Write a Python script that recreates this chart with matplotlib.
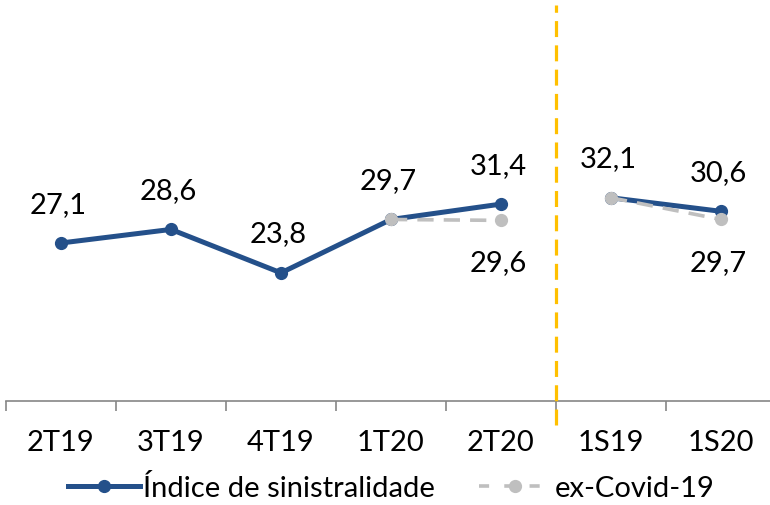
import matplotlib
matplotlib.use("Agg")
import matplotlib.pyplot as plt
import numpy as np

plt.rcParams['font.family'] = ['Lato', 'DejaVu Sans']

categories = ['2T19', '3T19', '4T19', '1T20', '2T20', '1S19', '1S20']
indice = [27.1, 28.6, 23.8, 29.7, 31.4, 32.1, 30.6]
ex_covid = [np.nan, np.nan, np.nan, 29.7, 29.6, 32.1, 29.7]
indice_labels = ['27,1', '28,6', '23,8', '29,7', '31,4', '32,1', '30,6']
ex_covid_labels = {4: '29,6', 6: '29,7'}

blue = '#24508A'
grey = '#BFBFBF'
orange = '#FFC000'

x = np.arange(len(categories))

fig = plt.figure(figsize=(7.7, 5.06), dpi=100)
ax = fig.add_axes([6 / 770, 104 / 506, 770 / 770, 396 / 506])

# blue series, broken between quarters and semesters
for seg in (slice(0, 5), slice(5, 7)):
    ax.plot(x[seg], indice[seg], color=blue, lw=3.6, marker='o', ms=8.5,
            solid_capstyle='round', zorder=3)

# grey ex-Covid series
for seg in (slice(3, 5), slice(5, 7)):
    ax.plot(x[seg], ex_covid[seg], color=grey, lw=2.6, marker='o', ms=8.5,
            dashes=(4.5, 2.8), zorder=4)

fs = 21
for i, lab in enumerate(indice_labels):
    ax.annotate(lab, (x[i], indice[i]), xytext=(-2, 19), textcoords='offset points',
                ha='center', va='bottom', fontsize=fs)
for i, lab in ex_covid_labels.items():
    ax.annotate(lab, (x[i], ex_covid[i]), xytext=(-2, -21), textcoords='offset points',
                ha='center', va='top', fontsize=fs)

ymin, ymax = 9.64, 53.4
ax.set_ylim(ymin, ymax)
ax.set_xlim(-0.5, 6.5)

# separator between quarters and semesters
ax.plot([4.5, 4.5], [ymin - 2.6, ymax], color=orange, lw=2.3, dashes=(5, 2.6),
        clip_on=False, zorder=5)

ax.set_xticks(x)
ax.set_xticklabels(categories, fontsize=fs)
ax.set_xticks(np.arange(-0.5, 7, 1), minor=True)
ax.tick_params(axis='x', which='major', length=0, pad=20)
ax.tick_params(axis='x', which='minor', length=7, width=1.2, color='#868686', direction='out')
ax.set_yticks([])
for s in ['top', 'right', 'left']:
    ax.spines[s].set_visible(False)
ax.spines['bottom'].set_color('#868686')
ax.spines['bottom'].set_linewidth(1.2)

h1, = ax.plot([], [], color=blue, lw=3.6, marker='o', ms=8.5)
h2, = ax.plot([], [], color=grey, lw=2.6, marker='o', ms=8.5, dashes=(2.8, 4.2))
fig.legend([h1, h2], ['Índice de sinistralidade', 'ex-Covid-19'], loc='center',
           bbox_to_anchor=(0.508, 0.034), ncol=2, frameon=False, fontsize=fs,
           handlelength=2.5, handletextpad=0.1, columnspacing=1.5)

fig.savefig('out.png', dpi=100)
